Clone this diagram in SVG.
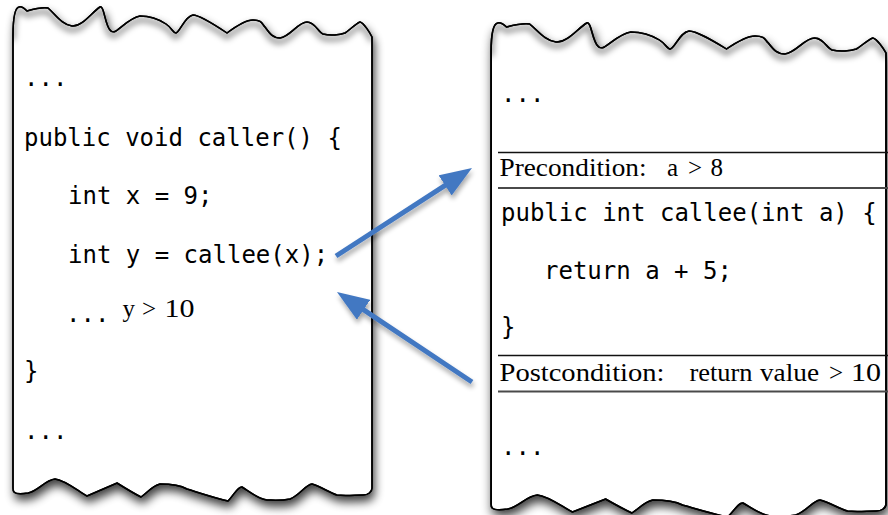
<svg xmlns="http://www.w3.org/2000/svg" xmlns:xlink="http://www.w3.org/1999/xlink" width="888" height="515" viewBox="0 0 888 515">
  <style>
    .code { font-family: "DejaVu Sans Mono", "Liberation Mono", monospace; font-size: 24px; fill: #000; }
    .cond { font-family: "Liberation Serif", "Times New Roman", serif; font-size: 25px; fill: #000; }
    .sheet { fill: #fff; stroke: #000; stroke-width: 1.5; }
    .edge { fill: none; stroke: #000; stroke-width: 1.5; stroke-linejoin: round; }
    .shade { fill: none; stroke: #000; stroke-opacity: 0.5; stroke-width: 4; }
    .rule { stroke: #111; stroke-width: 1.5; }
    .rule2 { stroke: #4a4a4a; stroke-width: 2; }
    .link { fill: none; stroke: #4378c2; stroke-width: 5; }
  </style>
  <defs>
    <!-- torn sheet of paper: wavy top and bottom, straight sides -->
    <path id="pageOutline" d="M13,488 L13,36 C13,22 14,8 19,7 C22,6 25,9 27,11 C34,9 42,7 48,8 C55,14 62,25 72,26 C82,27 92,12 100,7 C104,5 105,25 110,30 C112,33 114,32 116,31 C124,25 132,17 140,16 C150,16 160,20 166,24 C172,28 173,33 176,33 C180,32 185,16 193,15 C200,15 215,25 227,33 C235,27 245,20 253,20 C262,20 262,24 265,27 C270,34 273,38 280,38 C290,37 298,22 307,22 C315,22 318,32 323,34 C330,36 340,35 345,33 C350,30 355,24 360,22 C364,23 370,33 372,37 L372,488 C372,492 368,495 363,495 C355,495 345,496 337,495 C330,493 320,486 312,484 C305,485 300,495 290,499 C280,501 272,500 267,500 C258,499 250,492 242,487 C238,486 234,495 228,501 C215,498 200,493 187,489 C180,485 172,484 160,484 C152,486 148,492 141,497 C135,494 125,488 117,483 C108,487 96,492 87,496 C78,491 65,480 55,479 C45,480 38,491 28,493 C22,494 16,494 14,492 C13,491 13,490 13,488 Z"/>
    <!-- the top tear on its own, used for the soft shading under it -->
    <path id="pageTop" d="M13,36 C13,22 14,8 19,7 C22,6 25,9 27,11 C34,9 42,7 48,8 C55,14 62,25 72,26 C82,27 92,12 100,7 C104,5 105,25 110,30 C112,33 114,32 116,31 C124,25 132,17 140,16 C150,16 160,20 166,24 C172,28 173,33 176,33 C180,32 185,16 193,15 C200,15 215,25 227,33 C235,27 245,20 253,20 C262,20 262,24 265,27 C270,34 273,38 280,38 C290,37 298,22 307,22 C315,22 318,32 323,34 C330,36 340,35 345,33 C350,30 355,24 360,22 C364,23 370,33 372,37"/>
    <clipPath id="pageClip">
      <use xlink:href="#pageOutline"/>
    </clipPath>
    <filter id="pageShadow" x="-10%" y="-10%" width="125%" height="125%">
      <feGaussianBlur in="SourceAlpha" stdDeviation="5"/>
      <feOffset dx="2" dy="6" result="blur"/>
      <feComponentTransfer>
        <feFuncA type="linear" slope="0.75"/>
      </feComponentTransfer>
      <feMerge>
        <feMergeNode/>
        <feMergeNode in="SourceGraphic"/>
      </feMerge>
    </filter>
    <filter id="topShade" x="-5%" y="-50%" width="110%" height="200%">
      <feGaussianBlur stdDeviation="3"/>
      <feOffset dx="0" dy="4"/>
    </filter>
    <filter id="linkShadow" x="-20%" y="-20%" width="140%" height="150%">
      <feGaussianBlur in="SourceAlpha" stdDeviation="2.5"/>
      <feOffset dx="1" dy="4"/>
      <feComponentTransfer>
        <feFuncA type="linear" slope="0.35"/>
      </feComponentTransfer>
      <feMerge>
        <feMergeNode/>
        <feMergeNode in="SourceGraphic"/>
      </feMerge>
    </filter>
    <marker id="arrowHead" viewBox="0 0 32 24" refX="12" refY="12" markerWidth="32" markerHeight="24" markerUnits="userSpaceOnUse" orient="auto">
      <path d="M0,0 L32,12 L0,24 Z" fill="#4378c2"/>
    </marker>
  </defs>

  <!-- calling method -->
  <g id="caller-page">
    <use xlink:href="#pageOutline" class="sheet" filter="url(#pageShadow)"/>
    <g clip-path="url(#pageClip)">
      <use xlink:href="#pageTop" class="shade" filter="url(#topShade)"/>
    </g>
    <use xlink:href="#pageOutline" class="edge"/>
    <text class="code" x="24" y="86">...</text>
    <text class="code" x="24" y="146">public void caller() {</text>
    <text class="code" x="68" y="204">int x = 9;</text>
    <text class="code" x="68" y="263">int y = callee(x);</text>
    <text class="code" x="66" y="322">...</text>
    <text class="cond" x="122.5" y="317">y</text>
    <text class="cond" x="142" y="317">&gt;</text>
    <text class="cond" x="164.5" y="317" textLength="30" lengthAdjust="spacingAndGlyphs">10</text>
    <text class="code" x="24" y="379">}</text>
    <text class="code" x="24" y="439">...</text>
  </g>

  <!-- called method with its contract -->
  <g id="callee-page">
    <g transform="translate(476.8,16) scale(1.1,1)">
      <use xlink:href="#pageOutline" class="sheet" filter="url(#pageShadow)"/>
      <g clip-path="url(#pageClip)">
        <use xlink:href="#pageTop" class="shade" filter="url(#topShade)"/>
      </g>
      <use xlink:href="#pageOutline" class="edge"/>
    </g>
    <text class="code" x="501" y="102">...</text>
    <line class="rule" x1="498" y1="152.5" x2="888" y2="152.5"/>
    <text class="cond" x="499.5" y="176" textLength="147" lengthAdjust="spacingAndGlyphs">Precondition:</text>
    <text class="cond" x="667" y="176">a</text>
    <text class="cond" x="688" y="176">&gt;</text>
    <text class="cond" x="710.5" y="176">8</text>
    <line class="rule2" x1="498" y1="188" x2="888" y2="188"/>
    <text class="code" x="501" y="221">public int callee(int a) {</text>
    <text class="code" x="544" y="279">return a + 5;</text>
    <text class="code" x="501" y="335">}</text>
    <line class="rule" x1="498" y1="355.5" x2="888" y2="355.5"/>
    <text class="cond" x="499.5" y="381" textLength="165" lengthAdjust="spacingAndGlyphs">Postcondition:</text>
    <text class="cond" x="689.5" y="381" textLength="63" lengthAdjust="spacingAndGlyphs">return</text>
    <text class="cond" x="760" y="381" textLength="59" lengthAdjust="spacingAndGlyphs">value</text>
    <text class="cond" x="829" y="381">&gt;</text>
    <text class="cond" x="851" y="381" textLength="30" lengthAdjust="spacingAndGlyphs">10</text>
    <line class="rule2" x1="498" y1="391.5" x2="888" y2="391.5"/>
    <text class="code" x="501" y="455">...</text>
  </g>

  <!-- call and return -->
  <g id="connectors" filter="url(#linkShadow)">
    <line class="link" x1="336" y1="256" x2="455.2" y2="178.9" marker-end="url(#arrowHead)"/>
    <line class="link" x1="472" y1="382" x2="353.6" y2="303.1" marker-end="url(#arrowHead)"/>
  </g>
</svg>
